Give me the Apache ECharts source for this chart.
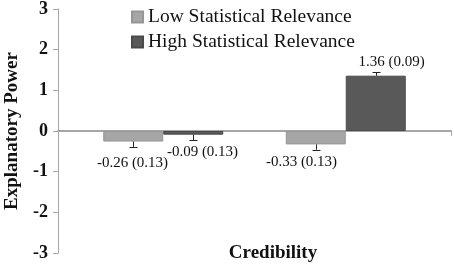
<!DOCTYPE html>
<html>
<head>
<meta charset="utf-8">
<script src="https://cdn.jsdelivr.net/npm/echarts@6/dist/echarts.min.js"></script>
<style>
    html, body { margin: 0; padding: 0; background: #fff; }
    #chart { width: 454px; height: 266px; }
</style>
</head>
<body>
<div id="chart"></div>
<script>
    // data
    let categories = ['Low', 'High'];
    let seriesNames = ['Low Statistical Relevance', 'High Statistical Relevance'];
    let lowValues = [-0.26, -0.33];
    let lowErrors = [0.13, 0.13];
    let highValues = [-0.09, 1.36];
    let highErrors = [0.13, 0.09];
    let yTicks = [-3, -2, -1, 0, 1, 2, 3];

    // hand placed label nudges (px) like in the original
    let lowLabelShift = [[-1, 21], [-15, 18]];
    let highLabelShift = [[9, 17], [15, -14]];

    let font = 'Liberation Serif';
    let barW = 60;
    let lightColor = '#a6a6a6';
    let darkColor = '#595959';

    let myChart = echarts.init(document.getElementById('chart'), null, {renderer: 'canvas'});

    function errorSeries(values, errors, shifts, dx) {
        return {
            type: 'custom',
            xAxisIndex: 0,
            yAxisIndex: 0,
            silent: true,
            z: 5,
            data: values.map((v, i) => [i, v, errors[i]]),
            renderItem: function (params, api) {
                let i = api.value(0);
                let v = api.value(1);
                let e = api.value(2);
                let end = api.coord([i, v]);
                let tip = api.coord([i, v < 0 ? v - e : v + e]);
                let x = Math.round(end[0] + dx) + 0.5;
                let s = shifts[i];
                let txt = (v < 0 ? '-' + Math.abs(v).toFixed(2) : v.toFixed(2)) + ' (' + e.toFixed(2) + ')';
                return {
                    type: 'group',
                    children: [
                        {type: 'line', shape: {x1: x, y1: end[1], x2: x, y2: tip[1]},
                            style: {stroke: '#222', lineWidth: 1}},
                        {type: 'line', shape: {x1: x - 4, y1: Math.round(tip[1]) + 0.5, x2: x + 4, y2: Math.round(tip[1]) + 0.5},
                            style: {stroke: '#222', lineWidth: 1}},
                        {type: 'text', x: x + s[0], y: end[1] + s[1],
                            style: {text: txt, fill: '#111', font: '15px "' + font + '"',
                                align: 'center', verticalAlign: 'middle'}}
                    ]
                };
            }
        };
    }

    let option = {
        animation: false,
        textStyle: {fontFamily: font},
        legend: {
            orient: 'vertical',
            left: 126,
            top: 2,
            itemWidth: 11,
            itemHeight: 11,
            itemGap: 5,
            icon: 'rect',
            textStyle: {fontFamily: font, fontSize: 19.5, color: '#111'},
            data: seriesNames
        },
        grid: [
            {left: 72, right: 17, top: 9, bottom: 13, outerBoundsMode: 'none', containLabel: false},
            {left: 58, right: 3, top: 9, bottom: 13, outerBoundsMode: 'none', containLabel: false}
        ],
        xAxis: [
            {
                type: 'category',
                gridIndex: 0,
                data: categories,
                axisLine: {show: false},
                axisTick: {show: false},
                axisLabel: {show: false}
            },
            {
                type: 'value',
                gridIndex: 1,
                min: 0,
                max: 1,
                interval: 1,
                axisLine: {onZero: true, lineStyle: {color: '#a6a6a6', width: 2}},
                axisTick: {show: true, length: 5, lineStyle: {color: '#a6a6a6', width: 1}},
                axisLabel: {show: false},
                splitLine: {show: false}
            }
        ],
        yAxis: [
            {
                type: 'value',
                gridIndex: 0,
                min: yTicks[0],
                max: yTicks[yTicks.length - 1],
                interval: 1,
                offset: 14,
                axisLine: {show: true, lineStyle: {color: '#a6a6a6', width: 1}},
                axisTick: {show: true, length: 5, lineStyle: {color: '#a6a6a6'}},
                axisLabel: {margin: 10, fontFamily: font, fontSize: 18, fontWeight: 'bold', color: '#111'},
                splitLine: {show: false}
            },
            {
                type: 'value',
                gridIndex: 1,
                min: yTicks[0],
                max: yTicks[yTicks.length - 1],
                interval: 1,
                show: false
            }
        ],
        series: [
            {
                name: seriesNames[0],
                type: 'bar',
                xAxisIndex: 0,
                yAxisIndex: 0,
                barWidth: barW,
                barGap: '0%',
                itemStyle: {color: lightColor, borderColor: '#969696', borderWidth: 1},
                data: lowValues
            },
            {
                name: seriesNames[1],
                type: 'bar',
                xAxisIndex: 0,
                yAxisIndex: 0,
                barWidth: barW,
                barGap: '0%',
                itemStyle: {color: darkColor, borderColor: '#4a4a4a', borderWidth: 1},
                data: highValues
            },
            errorSeries(lowValues, lowErrors, lowLabelShift, -barW / 2),
            errorSeries(highValues, highErrors, highLabelShift, barW / 2)
        ],
        graphic: [
            {
                type: 'text',
                x: 273,
                y: 253,
                style: {text: 'Credibility', font: 'bold 19px "' + font + '"', fill: '#111',
                    align: 'center', verticalAlign: 'middle'}
            },
            {
                type: 'text',
                x: 12,
                y: 131,
                rotation: Math.PI / 2,
                style: {text: 'Explanatory Power', font: 'bold 19px "' + font + '"', fill: '#111',
                    align: 'center', verticalAlign: 'middle'}
            }
        ]
    };

    myChart.setOption(option);
</script>
</body>
</html>
